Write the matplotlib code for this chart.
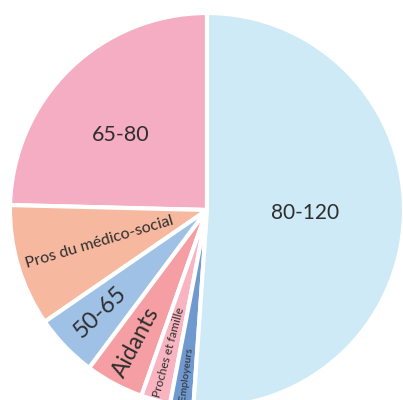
import numpy as np
import matplotlib
matplotlib.use("Agg")
import matplotlib.pyplot as plt

# Données (en %)
labels = ["65-80", "Pros du médico-social", "50-65", "Aidants",
          "Proches et famille", "Employeurs", "80-120"]
values = [24.6, 10.0, 5.2, 4.8, 2.4, 1.9, 51.1]
colors = ["#f4adc2", "#f6b89f", "#9fc1e5", "#f59ea3",
          "#f8b4c0", "#7099cf", "#cdeaf6"]

# style des étiquettes : position radiale, taille, rotation radiale ou non
label_r = [0.58, 0.57, 0.75, 0.76, 0.75, 0.84, 0.50]
label_size = [15.5, 11.5, 17, 16.5, 8.5, 7.5, 15]
label_radial = [False, True, True, True, True, True, False]

plt.rcParams["font.family"] = ["Lato", "DejaVu Sans"]

fig = plt.figure(figsize=(4.03, 4.0), dpi=100)
ax = fig.add_axes([0, 0, 1, 1])

wedges, _ = ax.pie(values, colors=colors, startangle=90, counterclock=True,
                   wedgeprops=dict(edgecolor="white", linewidth=3))

for w, lab, r, fs, radial in zip(wedges, labels, label_r, label_size, label_radial):
    mid = (w.theta1 + w.theta2) / 2
    if not radial and lab == "65-80":
        mid += 5
    x = r * np.cos(np.radians(mid))
    y = r * np.sin(np.radians(mid))
    rot = mid - 180 if radial else 0
    ax.text(x, y, lab, ha="center", va="center", rotation=rot,
            rotation_mode="anchor", fontsize=fs, color="#2e2e2e")

# centre du camembert à (207, 210) px, rayon 197 px
ax.set_xlim(-207 / 197, (403 - 207) / 197)
ax.set_ylim(-(400 - 210) / 197, 210 / 197)
ax.set_aspect("auto")
ax.axis("off")

fig.savefig("out.png", dpi=100)
